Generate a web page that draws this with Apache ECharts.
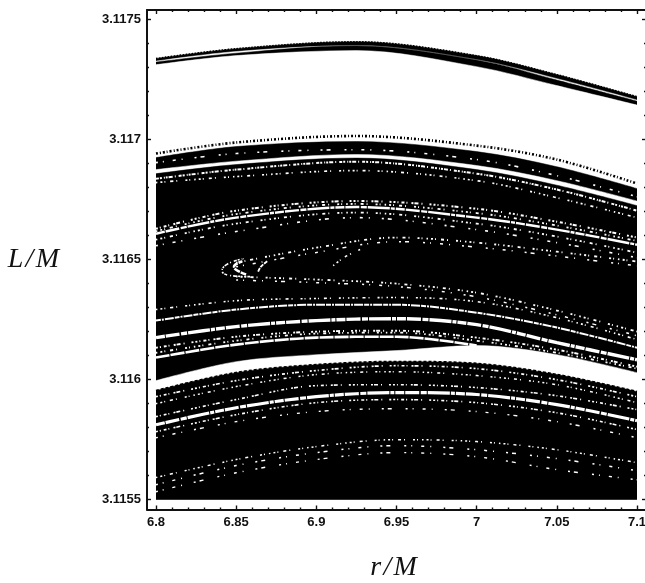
<!DOCTYPE html>
<html><head><meta charset="utf-8">
<style>html,body{margin:0;padding:0;background:#fff}#c{width:645px;height:583px}</style>
<script src="https://cdn.jsdelivr.net/npm/echarts@6/dist/echarts.min.js"></script>
</head><body><div id="c"></div>
<script>
const rValues = [6.8, 6.85, 6.9, 6.95, 7.0, 7.05, 7.1];
const rUpper = [6.8, 6.85, 6.925, 7.0, 7.05, 7.1];
const xMajor = [6.8, 6.85, 6.9, 6.95, 7, 7.05, 7.1];
const xMinor = [6.81,6.82,6.83,6.84,6.86,6.87,6.88,6.89,6.91,6.92,6.93,6.94,6.96,6.97,6.98,6.99,7.01,7.02,7.03,7.04,7.06,7.07,7.08,7.09];
const yMajor = [3.1155, 3.116, 3.1165, 3.117, 3.1175];
const yMinor = [3.1156,3.1157,3.1158,3.1159,3.1161,3.1162,3.1163,3.1164,3.1166,3.1167,3.1168,3.1169,3.1171,3.1172,3.1173,3.1174];

// upper boundaries (L/M at each r in rUpper), black and white regions painted from top down
const arcATop = [3.117338,3.117379,3.117408,3.117350,3.117271,3.117179];
const arcABot = [3.117327,3.117367,3.117392,3.117333,3.117254,3.117165];
const arcBTop = [3.117323,3.117360,3.117392,3.117333,3.117248,3.117160];
const arcBBot = [3.117312,3.117350,3.117371,3.117304,3.117225,3.117144];
const fuzzTop = [3.116942,3.116988,3.117015,3.116975,3.116917,3.116817];
const mainTop = [3.116925,3.116971,3.116992,3.116950,3.116887,3.116796];
const gap1Top = [3.116875,3.116910,3.116938,3.116892,3.116829,3.116744];
const gap1Bot = [3.116858,3.116896,3.116923,3.116875,3.116810,3.116725];
const s0  = [3.116904,3.116942,3.116958,3.116917,3.116850,3.116762];
const s1a = [3.116837,3.116875,3.116908,3.116858,3.116792,3.116704];
const s1b = [3.116821,3.116846,3.116871,3.116829,3.116758,3.116675];
const gap2 = [3.116608,3.116675,3.116719,3.116675,3.116625,3.116562];
const s2a = [3.116629,3.116704,3.116744,3.116712,3.116658,3.116592];
const s2b = [3.116618,3.116690,3.116732,3.116694,3.116642,3.116578];
const s2c = [3.116583,3.116650,3.116696,3.116650,3.116596,3.116529];
const s2d = [3.116558,3.116617,3.116675,3.116625,3.116571,3.116508];

// lower boundaries and white lines (L/M at each r in rValues)
const bigTop  = [3.115996,3.116075,3.116104,3.116121,3.116142,3.116104,3.116029];
const bigBot  = [3.115954,3.116029,3.116062,3.116075,3.116067,3.116021,3.115950];
const w1  = [3.116246,3.116292,3.116312,3.116312,3.116279,3.116217,3.116133];
const s3  = [3.116292,3.116329,3.116338,3.116342,3.116325,3.116258,3.116167];
const w2  = [3.116175,3.116221,3.116246,3.116254,3.116229,3.116154,3.116083];
const w3  = [3.116092,3.116146,3.116175,3.116179,3.116142];
const s4a = [3.116133,3.116179,3.116200,3.116204,3.116175,3.116125,3.116054];
const s4b = [3.116112,3.116162,3.116192,3.116196,3.116162,3.116112,3.116046];
const f1  = [3.115929,3.115996,3.116038,3.116058,3.116046,3.116000,3.115929];
const f1b = [3.115900,3.115971,3.116021,3.116033,3.116017,3.115979,3.115904];
const f2  = [3.115846,3.115917,3.115975,3.115979,3.115967,3.115933,3.115875];
const w4  = [3.115812,3.115883,3.115929,3.115946,3.115938,3.115896,3.115829];
const f3  = [3.115783,3.115854,3.115904,3.115917,3.115904,3.115862,3.115792];
const f3b = [3.115758,3.115825,3.115867,3.115879,3.115867,3.115825,3.115758];
const p1  = [3.115592,3.115667,3.115721,3.115750,3.115742,3.115708,3.115654];
const p3  = [3.115562,3.115642,3.115696,3.115725,3.115708,3.115671,3.115621];
const p2  = [3.115533,3.115612,3.115667,3.115696,3.115679,3.115625,3.115583];

// arcs starting at r = 6.85
const arcRs = [6.85, 6.9, 6.95, 7.0, 7.05, 7.1];
const arc1 = [3.116487,3.116550,3.116592,3.116571,3.116533,3.116492];
const arc1b = [3.116470,3.116530,3.116575,3.116552,3.116515,3.116474];
const arc2 = [3.116429,3.116417,3.116400,3.116362,3.116288,3.116200];
const arc2b = [3.116415,3.116404,3.116388,3.116345,3.116270,3.116183];

// swirl near r = 6.85
const c1R = [6.8587,6.8474,6.8412,6.8449,6.8549]; const c1L = [3.116429,3.116433,3.116454,3.116483,3.116504];
const c2R = [6.8562,6.8499,6.8487,6.8537];        const c2L = [3.116438,3.116458,3.116471,3.116492];
const c3R = [6.8637,6.8655,6.8699];               const c3L = [3.116450,3.116471,3.116496];
const c4R = [6.9105,6.918,6.9273];                const c4L = [3.116475,3.116512,3.116542];

const pairs = (xs, ys) => ys.map((v, i) => [xs[i], v]);
const BASE = 3.1155;
const SM = 0.33;
const layer = (xs, vals, color) => ({
  type: 'line', data: pairs(xs, vals), smooth: SM, symbol: 'none', silent: true,
  lineStyle: {width: 0.5, color}, areaStyle: {origin: BASE, color, opacity: 1}
});
const stroke = (xs, vals, color, width, dash, smooth) => ({
  type: 'line', data: pairs(xs, vals), smooth: smooth === undefined ? SM : smooth, symbol: 'none', silent: true,
  lineStyle: {width, color, type: dash || 'solid', cap: 'butt'}
});
const W = '#fff', K = '#000';
const d1 = [2,2,1,3,3,2,1,4,2,1,4,3,1,7,2,2], d2 = [1.5,3,2,2,1,5,3,3,1,8,2,2,1,4], d3 = [2,5,1,9,3,6,1,12,2,4,4,14], d4 = [9,1,14,1.5,6,1,22,1,4,1], d5 = [3,1,2,2,1,1,2,1,4,2,1,3];

const series = [
  stroke(rUpper, arcATop, K, 1.4, [1.5,1.5]),
  layer(rUpper, arcATop, K), layer(rUpper, arcABot, W), layer(rUpper, arcBTop, K), layer(rUpper, arcBBot, W),
  stroke(rUpper, fuzzTop, K, 2.6, [2,2,1,2]),
  layer(rUpper, mainTop, K), layer(rUpper, gap1Top, W), layer(rUpper, gap1Bot, K),
  layer(rValues, bigTop, W), layer(rValues, bigBot, K),
  stroke(rValues, bigBot, K, 2, [3,2]),
  stroke(rUpper, s0, W, 1.6, d3),
  stroke(rUpper, s1a, W, 2, d5),
  stroke(rUpper, s1b, W, 1.7, d2),
  stroke(rUpper, gap2, W, 2.4, d4),
  stroke(rUpper, s2a, W, 2, d1),
  stroke(rUpper, s2b, W, 1.8, d2),
  stroke(rUpper, s2c, W, 1.8, d2),
  stroke(rUpper, s2d, W, 1.6, d3),
  stroke(arcRs, arc1, W, 1.8, d2),
  stroke(arcRs, arc1b, W, 1.5, d3),
  stroke(arcRs, arc2, W, 1.8, d2),
  stroke(arcRs, arc2b, W, 1.5, d3),
  stroke(c1R, c1L, W, 1.6, d5, 0.5),
  stroke(c2R, c2L, W, 2.6, [6,1], 0.5),
  stroke(c3R, c3L, W, 1.8, [4,1], 0.4),
  stroke(c4R, c4L, W, 1.6, d2, 0.3),
  stroke(rValues, s3, W, 1.6, d2),
  stroke(rValues, w1, W, 2, [5,1,2,1,9,1]),
  stroke(rValues, w2, W, 3.4, d4),
  stroke(rValues.slice(0, 5), w3, W, 2.6, [14,1]),
  stroke(rValues, s4a, W, 1.9, d1),
  stroke(rValues, s4b, W, 1.8, d2),
  stroke(rValues, f1, W, 1.7, d1),
  stroke(rValues, f1b, W, 1.5, d2),
  stroke(rValues, f2, W, 1.6, d1),
  stroke(rValues, w4, W, 3.2, d4),
  stroke(rValues, f3, W, 1.6, d1),
  stroke(rValues, f3b, W, 1.4, d3),
  stroke(rValues, p1, W, 1.5, d2),
  stroke(rValues, p3, W, 1.5, d3),
  stroke(rValues, p2, W, 1.4, d3)
];

const font = {fontFamily: 'Liberation Sans', fontWeight: 'bold', fontSize: 13, color: '#111'};
const axisBase = {
  axisLine: {show: false, onZero: false, lineStyle: {color: '#111', width: 2}},
  splitLine: {show: false}, axisLabel: {show: false}
};
const ticks = (vals, length) => ({show: true, inside: true, length, customValues: vals, lineStyle: {color: '#111', width: 1.4}});
const xRange = {type: 'value', min: 6.794387, max: 7.105615};
const yRange = {type: 'value', min: 3.115459, max: 3.11754};

const chart = echarts.init(document.getElementById('c'), null, {renderer: 'canvas'});
chart.setOption({
  animation: false,
  backgroundColor: '#fff',
  grid: {left: 147, top: 10, width: 499, height: 499.5, containLabel: false, outerBoundsMode: 'none'},
  xAxis: [
    {...xRange, ...axisBase, position: 'bottom', axisLine: {...axisBase.axisLine, show: true},
     axisTick: ticks(xMajor, 4),
     axisLabel: {show: true, customValues: xMajor, margin: 6, formatter: v => String(v), hideOverlap: false, ...font},
     name: 'r\u200A/\u200AM', nameLocation: 'middle', nameGap: 44,
     nameTextStyle: {fontFamily: 'Liberation Serif', fontStyle: 'italic', fontSize: 28, color: '#111', padding: [0, 6, 0, 0]}},
    {...xRange, ...axisBase, position: 'bottom', axisTick: ticks(xMinor, 2)},
    {...xRange, ...axisBase, position: 'top', axisLine: {...axisBase.axisLine, show: true}, axisTick: ticks(xMajor, 4)},
    {...xRange, ...axisBase, position: 'top', axisTick: ticks(xMinor, 2)}
  ],
  yAxis: [
    {...yRange, ...axisBase, position: 'left', axisLine: {...axisBase.axisLine, show: true},
     axisTick: ticks(yMajor, 4),
     axisLabel: {show: true, customValues: yMajor, margin: 6, formatter: v => String(v), hideOverlap: false, ...font},
     name: 'L\u200A/\u200AM', nameLocation: 'middle', nameRotate: 0, nameGap: 88,
     nameTextStyle: {fontFamily: 'Liberation Serif', fontStyle: 'italic', fontSize: 28, color: '#111'}},
    {...yRange, ...axisBase, position: 'left', axisTick: ticks(yMinor, 2)},
    {...yRange, ...axisBase, position: 'right', axisLine: {...axisBase.axisLine, show: true}, axisTick: ticks(yMajor, 4)},
    {...yRange, ...axisBase, position: 'right', axisTick: ticks(yMinor, 2)}
  ],
  series
});
</script></body></html>
